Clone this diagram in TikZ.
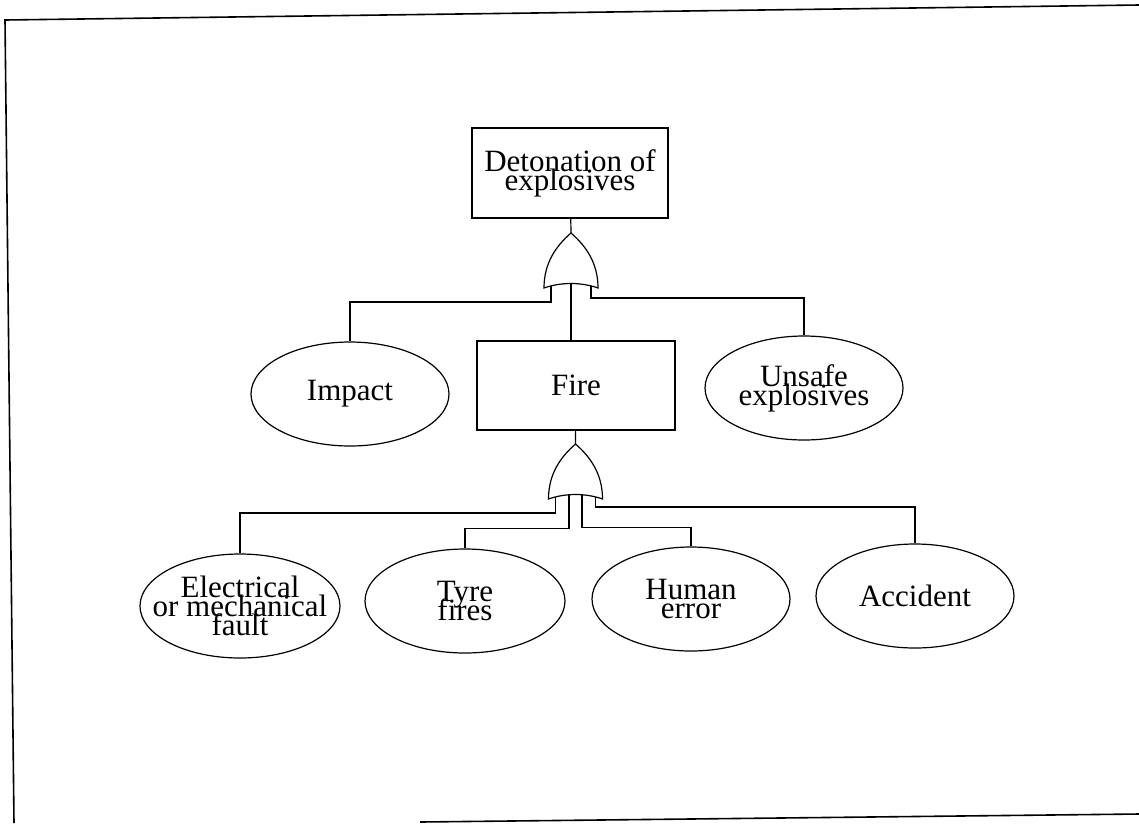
\documentclass[tikz,border=0pt]{standalone}
\usepackage{fontspec}
\setmainfont{Liberation Serif}
\usetikzlibrary{shapes.geometric}
\setlength{\lineskiplimit}{-100pt}
\begin{document}
\begin{tikzpicture}[x=1pt, y=-1pt, line width=1.2pt,
    % Schrift für alle Knoten
        every node/.style={font=\fontsize{31}{19}\selectfont},
    % Stil für die Ereignisse (Ellipsen)
        event/.style={ellipse, draw=black, align=center, inner xsep=-25pt, inner ysep=0pt, minimum width=198pt, minimum height=104pt},
    % Stil für die Kästen
        box/.style={rectangle, draw=black, align=center, inner sep=0pt},
    % ODER-Gatter, Ursprung unten in der Mitte
        orgate/.pic={
            \draw (-27,0) .. controls (-27,-25) and (-15,-42) .. (0,-55)
                  .. controls (15,-42) and (27,-25) .. (27,0)
                  .. controls (10,-6) and (-10,-6) .. cycle;
            \coordinate (-top) at (0,-55);
            \coordinate (-c) at (0,-4.5);
            \coordinate (-l) at (-20,-2.5);
            \coordinate (-il) at (-6.5,-4.2);
            \coordinate (-ir) at (6.5,-4.2);
            \coordinate (-r) at (20,-2.5);
        }]

        \useasboundingbox (0,0) rectangle (1139,823);

        % Rahmen
        \draw[line width=1.6pt] (1139,5) -- (5,20) -- (14,823);
        \draw[line width=1.6pt] (420,822) -- (1139,814);

        % Kästen
        \node[box, minimum width=196pt, minimum height=90pt] (det) at (570,173) {Detonation of\\explosives};
        \node[box, minimum width=198pt, minimum height=89pt] (fire) at (576,385.5) {Fire};

        % Ereignisse
        \node[event] (impact) at (350,394) {Impact};
        \node[event] (unsafe) at (804,388) {Unsafe\\explosives};
        \node[event, minimum width=200pt] (elec) at (240,606) {Electrical\\or mechanical\\fault};
        \node[event, minimum width=200pt] (tyre) at (465,601) {Tyre\\fires};
        \node[event] (human) at (691,599) {Human\\error};
        \node[event] (acc) at (915,596) {Accident};

        % Gatter
        \pic (g1) at (571,288) {orgate};
        \pic (g2) at (575.5,499) {orgate};

        % Verbindungen oberes Gatter
        \draw (det) -- (g1-top);
        \draw (g1-c) -- (g1-c |- fire.north);
        \draw (g1-l) -- ++(0,16.5) -| (impact);
        \draw (g1-r) -- ++(0,12.5) -| (unsafe);

        % Verbindungen unteres Gatter
        \draw (fire) -- (g2-top);
        \draw (g2-l) -- ++(0,16.5) -| (elec);
        \draw (g2-il) -- ++(0,34) -| (tyre);
        \draw (g2-ir) -- ++(0,33) -| (human);
        \draw (g2-r) -- ++(0,10.5) -| (acc);
    \end{tikzpicture}
\end{document}
